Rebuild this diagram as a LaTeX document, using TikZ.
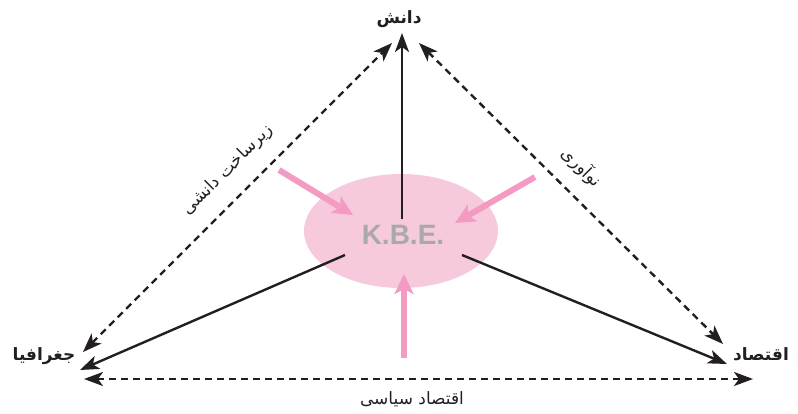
\documentclass[tikz,border=0pt]{standalone}
\usepackage{fontspec}
\setmainfont{Liberation Sans}
\newfontfamily\fa[Script=Arabic]{DejaVu Sans}
\TeXXeTstate=1
\usetikzlibrary{arrows.meta,shapes.geometric}
\definecolor{pinkfill}{HTML}{F7C9DD}
\definecolor{pinkarrow}{HTML}{F39BC2}
\definecolor{kbegrey}{HTML}{A7A9AC}
\definecolor{ink}{HTML}{231F20}
\begin{document}
\begin{tikzpicture}[x=1pt,y=-1pt,
  solidarrow/.style={draw=ink,line width=2.4pt,-{Stealth[length=19pt,width=14pt,inset=5pt]}},
  dasharrow/.style={draw=ink,line width=2.4pt,dash pattern=on 7pt off 5pt,
     {Stealth[length=19pt,width=14pt,inset=5pt]}-{Stealth[length=19pt,width=14pt,inset=5pt]}},
  pinkarr/.style={draw=pinkarrow,line width=6pt,-{Stealth[length=20pt,width=19pt,inset=5pt]}},
  vlabel/.style={font=\fa\bfseries\fontsize{17}{19}\selectfont,text=ink,inner sep=0pt},
  slabel/.style={font=\fa\fontsize{17}{19}\selectfont,text=ink,inner sep=0pt}]
\useasboundingbox (0,0) rectangle (798,413);
% ellipse
\node[ellipse,fill=pinkfill,minimum width=194pt,minimum height=114pt,inner sep=0pt] (kbe) at (401,231) {};
\node[font=\bfseries\fontsize{28}{30}\selectfont,text=kbegrey,inner sep=0pt] (kbetext) at (403,235) {K.B.E.};
% coordinates
\coordinate (cTop) at (402,219);
\coordinate (cLeft) at (345,255);
\coordinate (cRight) at (462,255);
\coordinate (tTop) at (402,33);
\coordinate (tLeft) at (80,370);
\coordinate (tRight) at (727,364);
\coordinate (dL1) at (83,352);
\coordinate (dL2) at (392,43);
\coordinate (dR1) at (419,43);
\coordinate (dR2) at (723,344);
\coordinate (dB1) at (84,379);
\coordinate (dB2) at (753,379);
\coordinate (pA1) at (279,170);
\coordinate (pA2) at (353,215);
\coordinate (pB1) at (535,177);
\coordinate (pB2) at (455,223);
\coordinate (pC1) at (404,358);
\coordinate (pC2) at (404,274);
% solid
\draw[solidarrow] (cTop) -- (tTop);
\draw[solidarrow] (cLeft) -- (tLeft);
\draw[solidarrow] (cRight) -- (tRight);
% dashed
\draw[dasharrow] (dL1) -- (dL2);
\draw[dasharrow] (dR1) -- (dR2);
\draw[dasharrow] (dB1) -- (dB2);
% pink
\draw[pinkarr] (pA1) -- (pA2);
\draw[pinkarr] (pB1) -- (pB2);
\draw[pinkarr] (pC1) -- (pC2);
% labels
\node[vlabel] (lTop) at (399,19) {\beginR دانش\endR};
\node[vlabel] (lLeft) at (44,356) {\beginR جغرافیا\endR};
\node[vlabel] (lRight) at (761,354) {\beginR اقتصاد\endR};
\node[slabel,rotate=45] (sLeft) at (228,170) {\beginR زیرساخت دانشی\endR};
\node[slabel,rotate=-45] (sRight) at (582,167) {\beginR نوآوری\endR};
\node[slabel] (sBottom) at (412,399) {\beginR اقتصاد سیاسی\endR};
\end{tikzpicture}
\end{document}
